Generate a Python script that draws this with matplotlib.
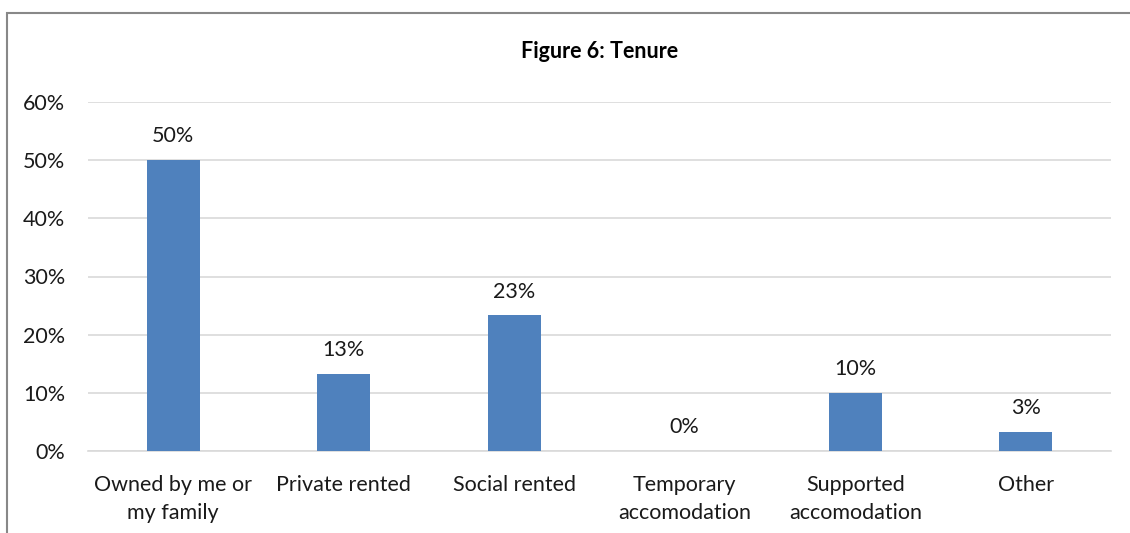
import matplotlib.pyplot as plt
from matplotlib.patches import Rectangle
from matplotlib.ticker import FuncFormatter

categories = ["Owned by me or\nmy family", "Private rented", "Social rented",
              "Temporary\naccomodation", "Supported\naccomodation", "Other"]
values = [50.0, 13.3, 23.3, 0.0, 10.0, 3.3]
labels = ["50%", "13%", "23%", "0%", "10%", "3%"]

plt.rcParams['font.family'] = ['Lato', 'DejaVu Sans']

W, H = 1130, 533
fig = plt.figure(figsize=(W / 100, H / 100), dpi=100)
ax = fig.add_axes([88 / W, (H - 451) / H, (1111 - 88) / W, (451 - 102) / H])

x = range(len(categories))
ax.bar(x, values, width=0.31, color='#4F81BD', zorder=3)
for xi, v, lab in zip(x, values, labels):
    ax.text(xi, v + 2.4, lab, ha='center', va='bottom', fontsize=15.5, color='#1a1a1a')

ax.set_xlim(-0.5, len(categories) - 0.5)
ax.set_ylim(0, 60)
ax.set_yticks(range(0, 61, 10))
ax.yaxis.set_major_formatter(FuncFormatter(lambda v, p: f"{int(v)}%"))
ax.set_xticks(list(x))
ax.set_xticklabels(categories, fontsize=15.5, color='#1a1a1a', linespacing=1.5)
ax.tick_params(axis='y', labelsize=15.5, labelcolor='#1a1a1a', length=0, pad=16.5)
ax.tick_params(axis='x', length=0, pad=17)
ax.grid(axis='y', color='#d9d9d9', linewidth=1.2, zorder=0)
for s in ['top', 'right', 'left']:
    ax.spines[s].set_visible(False)
ax.spines['bottom'].set_color('#d9d9d9')
ax.spines['bottom'].set_linewidth(1.2)

fig.text(0.5 * (88 + 1111) / W, (H - 52) / H, "Figure 6: Tenure", ha='center', va='center',
         fontsize=15.5, fontweight='bold', color='#000000')

fig.patches.append(Rectangle((7 / W, -0.1), 1.2, (H - 13) / H + 0.1, transform=fig.transFigure,
                             fill=False, edgecolor='#888888', linewidth=1.5))

fig.savefig("out.png", dpi=100)
